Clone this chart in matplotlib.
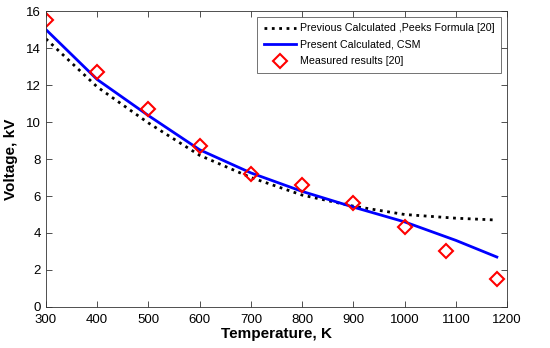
import matplotlib
matplotlib.use("Agg")
import matplotlib.pyplot as plt

plt.rcParams['font.family'] = ['Liberation Sans', 'DejaVu Sans']

temp_line = [300, 400, 500, 600, 700, 800, 900, 1000, 1100, 1180]
peeks = [14.5, 11.9, 9.95, 8.2, 7.0, 6.05, 5.45, 5.0, 4.8, 4.7]
csm = [15.0, 12.3, 10.35, 8.5, 7.25, 6.25, 5.4, 4.6, 3.6, 2.7]

temp_meas = [300, 400, 500, 600, 700, 800, 900, 1000, 1080, 1180]
measured = [15.5, 12.7, 10.7, 8.7, 7.2, 6.6, 5.6, 4.3, 3.0, 1.5]

xticks = [300, 400, 500, 600, 700, 800, 900, 1000, 1100, 1200]
yticks = [0, 2, 4, 6, 8, 10, 12, 14, 16]

fig = plt.figure(figsize=(5.5, 3.48), dpi=100)
ax = fig.add_axes([0.0836, 0.118, 0.8384, 0.850])

ax.plot(temp_line, peeks, color='black', linestyle=':', linewidth=2,
        label='Previous Calculated ,Peeks Formula [20]')
ax.plot(temp_line, csm, color='#0000ff', linestyle='-', linewidth=2,
        label='Present Calculated, CSM')
ax.plot(temp_meas, measured, linestyle='none', marker='D', markersize=7,
        markerfacecolor='none', markeredgecolor='red', markeredgewidth=1.5,
        label='Measured results [20]')

ax.set_xlim(300, 1200)
ax.set_ylim(0, 16)
ax.set_xticks(xticks)
ax.set_yticks(yticks)
ax.tick_params(direction='in', top=True, right=True, labelsize=9.5, length=4,
               width=0.6, color='#333333')
ax.tick_params(axis='x', pad=5)
for s in ax.spines.values():
    s.set_linewidth(0.6)
    s.set_color('#333333')

ax.set_xlabel('Temperature, K', fontsize=11, fontweight='bold', labelpad=1)
ax.set_ylabel('Voltage, kV', fontsize=11, fontweight='bold', labelpad=6)

leg = ax.legend(loc='upper right', fontsize=7.7, frameon=True, fancybox=False,
                edgecolor='#333333', borderaxespad=0.55, handlelength=3.0,
                handletextpad=0.4, labelspacing=0.6, borderpad=0.6)
leg.get_frame().set_linewidth(0.6)

fig.savefig('out.png', dpi=100)
